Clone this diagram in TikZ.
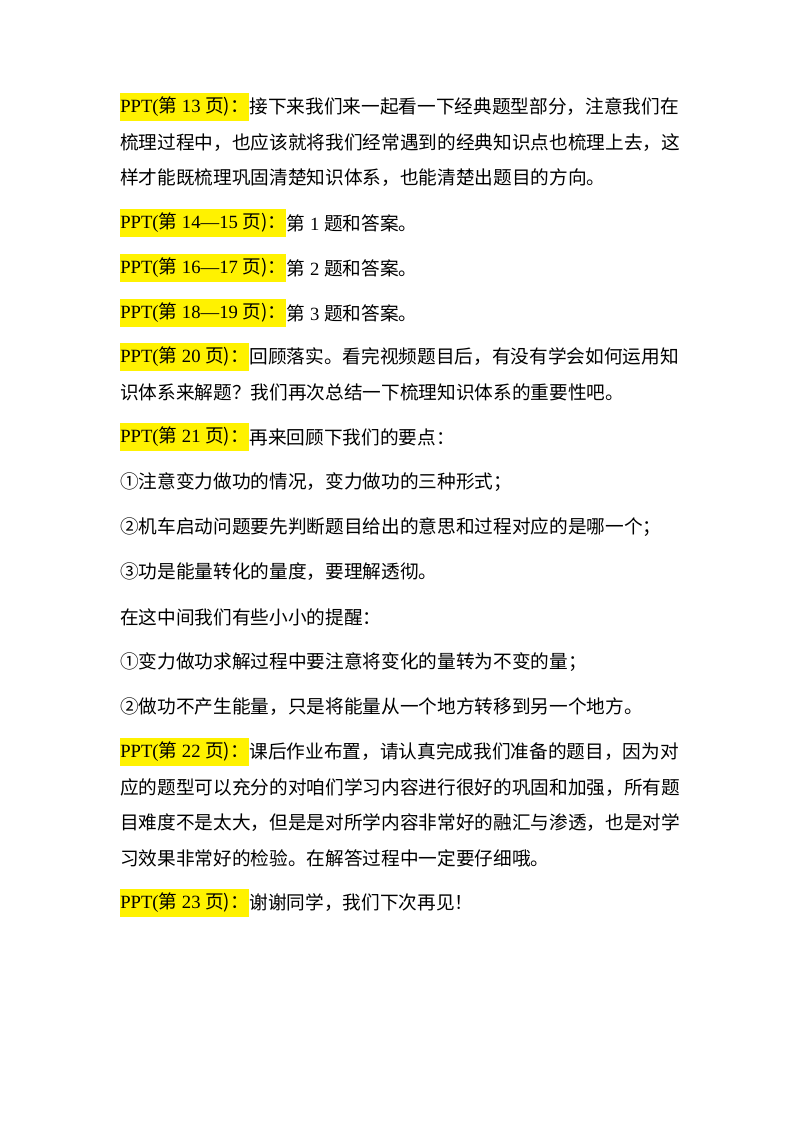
\documentclass[tikz,border=0pt]{standalone}
\usepackage{fontspec}
\setmainfont{Liberation Serif}
\newfontfamily\cjk{Noto Sans CJK SC}
\usetikzlibrary{positioning}
\tikzset{
 hl/.style={fill=yellow, inner xsep=0pt, inner ysep=3pt, anchor=west, font=\fontsize{14}{14}\selectfont},
 txt/.style={inner sep=0pt, anchor=west, font=\fontsize{14}{14}\selectfont},
}
\newcommand{\C}[1]{{\cjk #1}}
\begin{document}
\begin{tikzpicture}[x=0.75pt,y=-0.75pt]
\useasboundingbox (0,0) rectangle (800,1132);
\node[hl] (h1) at (120,107) {PPT(\C{第} 13 \C{页)：}};
\node[txt] (t1) at (h1.east) {\C{接下来我们来一起看一下经典题型部分，注意我们在}};
\node[txt] (t1b) at (120,143) {\C{梳理过程中，也应该就将我们经常遇到的经典知识点也梳理上去，这}};
\node[txt] (t1c) at (120,178) {\C{样才能既梳理巩固清楚知识体系，也能清楚出题目的方向。}};
\node[hl] (h2) at (120,223) {PPT(\C{第} 14—15 \C{页)：}};
\node[txt] (t2) at (h2.east) {\C{第} 1 \C{题和答案。}};
\node[hl] (h3) at (120,268) {PPT(\C{第} 16—17 \C{页)：}};
\node[txt] (t3) at (h3.east) {\C{第} 2 \C{题和答案。}};
\node[hl] (h4) at (120,313) {PPT(\C{第} 18—19 \C{页)：}};
\node[txt] (t4) at (h4.east) {\C{第} 3 \C{题和答案。}};
\node[hl] (h5) at (120,357) {PPT(\C{第} 20 \C{页)：}};
\node[txt] (t5) at (h5.east) {\C{回顾落实。看完视频题目后，有没有学会如何运用知}};
\node[txt] (t5b) at (120,392) {\C{识体系来解题？我们再次总结一下梳理知识体系的重要性吧。}};
\node[hl] (h6) at (120,437) {PPT(\C{第} 21 \C{页)：}};
\node[txt] (t6) at (h6.east) {\C{再来回顾下我们的要点：}};
\node[txt] (l1) at (120,482) {\C{①注意变力做功的情况，变力做功的三种形式；}};
\node[txt] (l2) at (120,527) {\C{②机车启动问题要先判断题目给出的意思和过程对应的是哪一个；}};
\node[txt] (l3) at (120,572) {\C{③功是能量转化的量度，要理解透彻。}};
\node[txt] (l4) at (120,617) {\C{在这中间我们有些小小的提醒：}};
\node[txt] (l5) at (120,662) {\C{①变力做功求解过程中要注意将变化的量转为不变的量；}};
\node[txt] (l6) at (120,707) {\C{②做功不产生能量，只是将能量从一个地方转移到另一个地方。}};
\node[hl] (h7) at (120,752) {PPT(\C{第} 22 \C{页)：}};
\node[txt] (t7) at (h7.east) {\C{课后作业布置，请认真完成我们准备的题目，因为对}};
\node[txt] (t7b) at (120,788) {\C{应的题型可以充分的对咱们学习内容进行很好的巩固和加强，所有题}};
\node[txt] (t7c) at (120,823) {\C{目难度不是太大，但是是对所学内容非常好的融汇与渗透，也是对学}};
\node[txt] (t7d) at (120,858) {\C{习效果非常好的检验。在解答过程中一定要仔细哦。}};
\node[hl] (h8) at (120,903) {PPT(\C{第} 23 \C{页)：}};
\node[txt] (t8) at (h8.east) {\C{谢谢同学，我们下次再见！}};
\end{tikzpicture}
\end{document}
